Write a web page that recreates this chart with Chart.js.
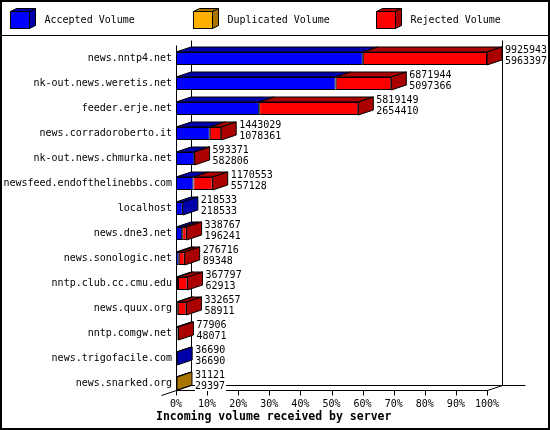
<!DOCTYPE html>
<html>
<head>
<meta charset="utf-8">
<script src="https://cdn.jsdelivr.net/npm/chart.js@4.4.1/dist/chart.umd.min.js"></script>
<style>
  html, body { margin: 0; padding: 0; background: #fff; }
  canvas { display: block; }
</style>
</head>
<body>
<canvas id="volumeChart" width="550" height="430"></canvas>
<script>
const servers = [
  'news.nntp4.net', 'nk-out.news.weretis.net', 'feeder.erje.net',
  'news.corradoroberto.it', 'nk-out.news.chmurka.net', 'newsfeed.endofthelinebbs.com',
  'localhost', 'news.dne3.net', 'news.sonologic.net', 'nntp.club.cc.cmu.edu',
  'news.quux.org', 'nntp.comgw.net', 'news.trigofacile.com', 'news.snarked.org'
];
const acceptedVolume = [5963397, 5097366, 2654410, 1078361, 582806, 557128, 218533,
  196241, 89348, 62913, 58911, 48071, 36690, 29397];
const duplicatedVolume = [0, 0, 0, 0, 0, 0, 0, 0, 0, 0, 0, 0, 0, 1724];
const rejectedVolume = [3962546, 1774578, 3164739, 364668, 10565, 613425, 0,
  142526, 187368, 304884, 273746, 29835, 0, 0];
const percentTicks = [0, 10, 20, 30, 40, 50, 60, 70, 80, 90, 100];

const totals = servers.map((_, i) => acceptedVolume[i] + duplicatedVolume[i] + rejectedVolume[i]);
const maxTotal = Math.max(...totals);
const pct = (arr) => arr.map(v => v > 0 ? v / maxTotal * 100 : null);

const MONO = "'DejaVu Sans Mono', 'Liberation Mono', monospace";
const darkColors = ['#0000aa', '#aa7400', '#aa0000'];
const depth = { dx: 15, dy: -5 };

Chart.defaults.font.family = MONO;
Chart.defaults.font.size = 10;
Chart.defaults.color = '#000';

function poly(ctx, pts, fill) {
  ctx.beginPath();
  ctx.moveTo(pts[0][0], pts[0][1]);
  for (let k = 1; k < pts.length; k++) ctx.lineTo(pts[k][0], pts[k][1]);
  ctx.closePath();
  ctx.fillStyle = fill;
  ctx.fill();
  ctx.stroke();
}

function line(ctx, x1, y1, x2, y2) {
  ctx.beginPath();
  ctx.moveTo(x1, y1);
  ctx.lineTo(x2, y2);
  ctx.stroke();
}

const chart3d = {
  id: 'chart3d',
  beforeDraw(chart) {
    const ctx = chart.ctx;
    ctx.save();
    ctx.fillStyle = '#fff';
    ctx.fillRect(0, 0, chart.width, chart.height);
    ctx.restore();
  },
  beforeDatasetsDraw(chart) {
    const ctx = chart.ctx;
    const xs = chart.scales.x;
    const area = chart.chartArea;
    const x0 = Math.round(xs.getPixelForValue(0)) + 0.5;
    const x100 = Math.round(xs.getPixelForValue(100)) + 0.5;
    const yF = Math.round(area.bottom - 6) + 0.5;
    const yTop = Math.round(area.top - 1) + 0.5;
    const { dx, dy } = depth;
    ctx.save();
    ctx.strokeStyle = '#000';
    ctx.lineWidth = 1;
    // walls and floor
    line(ctx, x0, yTop, x0, yF);
    line(ctx, x0 + dx, yTop + dy, x0 + dx, yF + dy);
    line(ctx, x100 + dx, yTop + dy, x100 + dx, yF + dy);
    line(ctx, x0 + dx, yF + dy, x100 + dx + 23, yF + dy);
    line(ctx, x0, yF, x100, yF);
    line(ctx, x100, yF, x100 + dx, yF + dy);
    line(ctx, x0 - dx, yF - dy, x0 + dx, yF + dy);
    percentTicks.forEach(v => {
      const x = Math.round(xs.getPixelForValue(v)) + 0.5;
      line(ctx, x, yF, x, yF + 5);
    });
    ctx.restore();
  },
  afterDatasetsDraw(chart) {
    const ctx = chart.ctx;
    const xs = chart.scales.x;
    const { dx, dy } = depth;
    ctx.save();
    ctx.strokeStyle = '#000';
    ctx.lineWidth = 1;
    servers.forEach((_, i) => {
      let last = null;
      chart.data.datasets.forEach((ds, d) => {
        if (ds.data[i] == null) return;
        const el = chart.getDatasetMeta(d).data[i];
        const p = el.getProps(['x', 'y', 'base', 'height'], true);
        const l = Math.min(p.x, p.base), r = Math.max(p.x, p.base);
        const t = p.y - p.height / 2;
        poly(ctx, [[l, t], [l + dx, t + dy], [r + dx, t + dy], [r, t]], darkColors[d]);
        last = { r, t, b: p.y + p.height / 2, d, y: p.y };
      });
      if (!last) return;
      poly(ctx, [[last.r, last.t], [last.r + dx, last.t + dy], [last.r + dx, last.b + dy], [last.r, last.b]], darkColors[last.d]);

      // value labels: total volume and accepted volume
      const tx = xs.getPixelForValue(totals[i] / maxTotal * 100) + dx + 3;
      ctx.font = '10px ' + MONO;
      ctx.textBaseline = 'middle';
      ctx.textAlign = 'left';
      [[String(totals[i]), last.y - 8.5], [String(acceptedVolume[i]), last.y + 2.5]].forEach(([s, y]) => {
        const w = ctx.measureText(s).width;
        ctx.fillStyle = '#fff';
        ctx.fillRect(tx, y - 5, w + 1, 10);
        ctx.fillStyle = '#000';
        ctx.fillText(s, tx, y);
      });
    });
    ctx.restore();
  },
  afterDraw(chart) {
    const ctx = chart.ctx;
    ctx.save();
    ctx.strokeStyle = '#000';
    ctx.lineWidth = 1;
    // legend
    chart.data.datasets.forEach((ds, d) => {
      const x = 10.5 + d * 183;
      const y = 11.5, w = 19, h = 17, ox = 6, oy = -3;
      ctx.fillStyle = ds.backgroundColor;
      ctx.fillRect(x, y, w, h);
      ctx.strokeRect(x, y, w, h);
      poly(ctx, [[x, y], [x + ox, y + oy], [x + w + ox, y + oy], [x + w, y]], darkColors[d]);
      poly(ctx, [[x + w, y], [x + w + ox, y + oy], [x + w + ox, y + h + oy], [x + w, y + h]], darkColors[d]);
      ctx.fillStyle = '#000';
      ctx.font = '10px ' + MONO;
      ctx.textBaseline = 'middle';
      ctx.textAlign = 'left';
      ctx.fillText(ds.label, x + 34, 20);
    });
    line(ctx, 0, 35.5, chart.width, 35.5);
    // title
    ctx.fillStyle = '#000';
    ctx.font = 'bold 11.5px ' + MONO;
    ctx.textBaseline = 'middle';
    ctx.fillText('Incoming volume received by server', 156, 417);
    // outer frame
    ctx.lineWidth = 2;
    ctx.strokeRect(1, 1, chart.width - 2, chart.height - 2);
    ctx.restore();
  }
};

new Chart(document.getElementById('volumeChart'), {
  type: 'bar',
  data: {
    labels: servers,
    datasets: [
      { label: 'Accepted Volume', data: pct(acceptedVolume), backgroundColor: '#0000ff' },
      { label: 'Duplicated Volume', data: pct(duplicatedVolume), backgroundColor: '#ffb000' },
      { label: 'Rejected Volume', data: pct(rejectedVolume), backgroundColor: '#ff0000' }
    ]
  },
  options: {
    indexAxis: 'y',
    responsive: false,
    animation: false,
    devicePixelRatio: 1,
    layout: { padding: { top: 46, right: 63, left: 0, bottom: 0 } },
    datasets: {
      bar: {
        borderColor: '#000',
        borderWidth: 1,
        borderSkipped: false,
        categoryPercentage: 1,
        barPercentage: 0.52
      }
    },
    plugins: {
      legend: { display: false },
      tooltip: { enabled: false },
      title: { display: false }
    },
    scales: {
      x: {
        type: 'linear',
        stacked: true,
        min: 0,
        max: 100,
        afterFit: (s) => { s.height = 34; },
        afterBuildTicks: (s) => { s.ticks = percentTicks.map(v => ({ value: v })); },
        ticks: {
          padding: 2,
          maxRotation: 0,
          autoSkip: false,
          callback: (v) => v + '%'
        },
        grid: { display: false, drawTicks: false },
        border: { display: false }
      },
      y: {
        stacked: true,
        afterFit: (s) => { s.width = 176; },
        ticks: { padding: 4, autoSkip: false },
        grid: { display: false, drawTicks: false },
        border: { display: false }
      }
    }
  },
  plugins: [chart3d]
});
</script>
</body>
</html>
